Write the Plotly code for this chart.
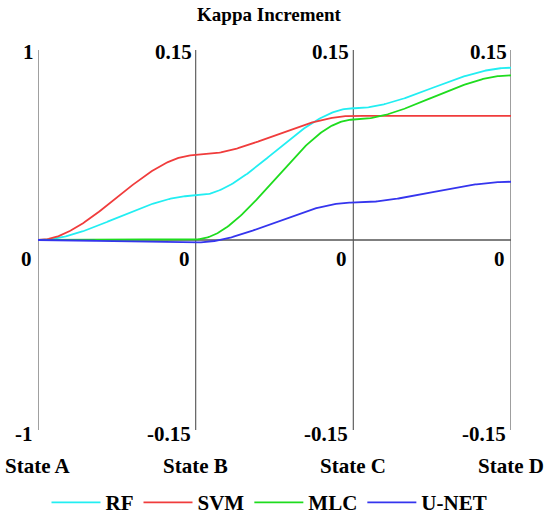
import numpy as np
import plotly.graph_objects as go

states = ["State A", "State B", "State C", "State D"]
axis_max = [1.0, 0.15, 0.15, 0.15]
top_labels = ["1", "0.15", "0.15", "0.15"]
mid_labels = ["0", "0", "0", "0"]
bottom_labels = ["-1", "-0.15", "-0.15", "-0.15"]

series_names = ["RF", "SVM", "MLC", "U-NET"]
rf = [0.0, 0.035, 0.104, 0.136]
svm = [0.0, 0.067, 0.098, 0.098]
mlc = [0.0, 0.0005, 0.095, 0.130]
unet = [0.0, -0.002, 0.0295, 0.046]
colors = ["#22EEF2", "#F03C3C", "#1EDC1E", "#3535EE"]

FONT = "Times New Roman, Liberation Serif, serif"

fig = go.Figure()

def smooth(vals):
    # normalise each value to its own axis, then join with smooth (zero-tangent) cubic segments
    yn = [v / m for v, m in zip(vals, axis_max)]
    xs, ys = [], []
    t = np.linspace(0, 1, 120)
    h = 3 * t**2 - 2 * t**3
    for i in range(len(yn) - 1):
        seg_t = t if i == 0 else t[1:]
        seg_h = h if i == 0 else h[1:]
        xs.extend(list(i + seg_t))
        ys.extend(list(yn[i] + (yn[i + 1] - yn[i]) * seg_h))
    return xs, ys

for name, vals, col in zip(series_names, [rf, svm, mlc, unet], colors):
    xs, ys = smooth(vals)
    fig.add_trace(go.Scatter(x=xs, y=ys, mode="lines", name="<b>%s</b>" % name,
                             line=dict(color=col, width=1.8), hoverinfo="skip"))

shapes = []
for i in range(len(states)):
    shapes.append(dict(type="line", xref="x", yref="y", x0=i, x1=i, y0=-1, y1=1,
                       line=dict(color="#606060", width=1.2), layer="below"))
shapes.append(dict(type="line", xref="x", yref="y", x0=0, x1=len(states) - 1, y0=0, y1=0,
                   line=dict(color="#555555", width=1.5), layer="below"))

ann = []
lab_font = dict(family=FONT, size=21, color="black")
for i in range(len(states)):
    ann.append(dict(x=i, y=1, xref="x", yref="y", text="<b>%s</b>" % top_labels[i],
                    showarrow=False, xanchor="right", yanchor="middle", xshift=-2, yshift=-2,
                    font=lab_font))
    ann.append(dict(x=i, y=0, xref="x", yref="y", text="<b>%s</b>" % mid_labels[i],
                    showarrow=False, xanchor="right", yanchor="top", xshift=-4, yshift=-5,
                    font=lab_font))
    ann.append(dict(x=i, y=-1, xref="x", yref="y", text="<b>%s</b>" % bottom_labels[i],
                    showarrow=False, xanchor="right", yanchor="middle", xshift=-3, yshift=-4,
                    font=lab_font))
    ann.append(dict(x=i, y=-1, xref="x", yref="y", text="<b>%s</b>" % states[i],
                    showarrow=False, xanchor="center", yanchor="middle", yshift=-36,
                    font=lab_font))

fig.update_layout(
    width=550, height=515,
    margin=dict(l=38, r=39, t=50, b=85),
    paper_bgcolor="white", plot_bgcolor="white",
    title=dict(text="<b>Kappa Increment</b>", x=0.489, xanchor="center", xref="container",
               y=0.973, yref="container", yanchor="middle",
               font=dict(family=FONT, size=19, color="black")),
    xaxis=dict(range=[0, 3], visible=False, fixedrange=True),
    yaxis=dict(range=[-1, 1], visible=False, fixedrange=True),
    shapes=shapes, annotations=ann,
    showlegend=True,
    legend=dict(orientation="h", x=0.49, xref="container", xanchor="center",
                y=0.024, yref="container", yanchor="middle",
                font=dict(family=FONT, size=21, color="black"), itemwidth=49,
                bgcolor="rgba(0,0,0,0)"),
)

fig.write_html("out.html", config={"displayModeBar": False},
               post_script="document.body.style.margin='0px';document.body.style.overflow='hidden';")
